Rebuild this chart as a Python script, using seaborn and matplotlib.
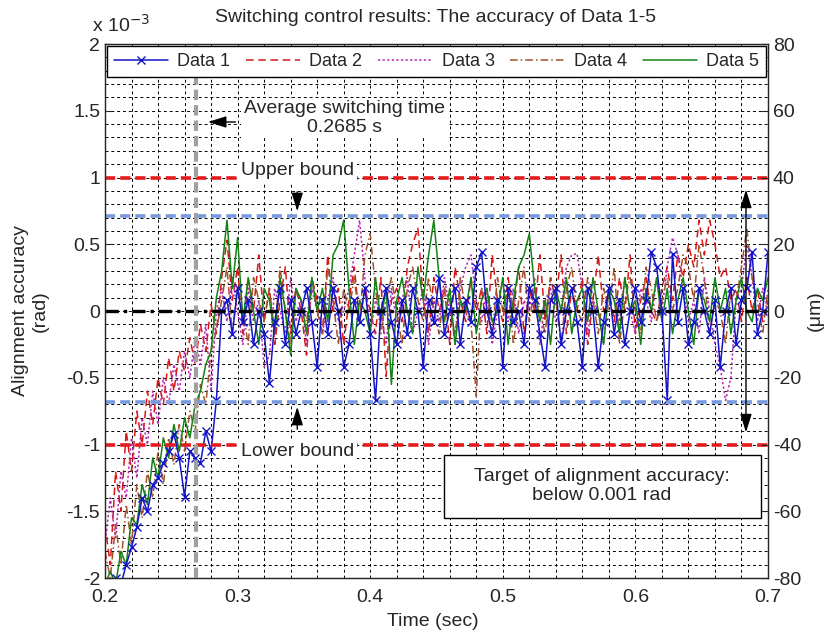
import numpy as np
import matplotlib
matplotlib.use('Agg')
import matplotlib.pyplot as plt
import seaborn as sns
from matplotlib.patches import Rectangle
from matplotlib.ticker import MultipleLocator, FormatStrFormatter

# sampled every 4 ms, values in units of 1e-3 rad
time = np.linspace(0.2, 0.7, 126)

data1 = [-2.05, -2.1, -2.0, -2.05, -1.9, -1.77, -1.62, -1.40, -1.5, -1.3,
         -1.25, -1.14, -1.05, -0.92, -1.1, -1.39, -1.05, -1.1, -1.14, -0.9,
         -1.05, -0.67, 0.0, 0.08, -0.17, 0.17, -0.08, 0.08, -0.25, 0.0,
         -0.17, -0.54, -0.08, 0.17, -0.25, 0.08, -0.17, 0.0, 0.17, -0.08,
         -0.42, 0.08, -0.17, 0.17, 0.0, -0.42, -0.25, 0.08, -0.08, 0.17,
         -0.17, -0.67, 0.0, 0.17, -0.08, -0.25, 0.08, -0.17, 0.17, 0.0,
         -0.42, 0.08, -0.08, 0.25, -0.17, 0.0, 0.17, -0.25, 0.08, -0.08,
         0.33, 0.44, 0.0, -0.17, 0.08, -0.42, 0.17, -0.08, 0.0, -0.25,
         0.17, 0.08, -0.17, -0.42, 0.08, 0.17, -0.25, 0.0, 0.17, -0.08,
         -0.42, 0.17, 0.0, -0.42, -0.08, 0.17, -0.17, 0.08, -0.25, 0.0,
         0.17, -0.08, 0.08, 0.44, 0.33, 0.0, -0.67, 0.43, -0.08, 0.17,
         -0.25, -0.08, 0.17, 0.0, -0.17, 0.08, -0.42, 0.0, 0.17, -0.25,
         0.08, 0.17, 0.44, -0.17, 0.0, 0.44]

data2 = [-1.6, -1.9, -1.2, -1.5, -0.9, -1.2, -0.75, -1.0, -0.6, -0.85,
         -0.5, -0.7, -0.35, -0.6, -0.3, -0.45, -0.2, -0.4, -0.1, -0.3,
         0.05, -0.17, 0.25, 0.53, 0.08, 0.33, -0.17, 0.25, 0.0, 0.42,
         -0.08, 0.17, -0.25, 0.08, 0.33, -0.17, 0.17, 0.0, -0.33, 0.25,
         0.08, -0.17, 0.42, 0.0, 0.17, -0.25, 0.08, 0.33, -0.08, 0.17,
         0.0, -0.17, 0.25, -0.49, 0.08, 0.17, -0.08, 0.33, 0.5, 0.62,
         0.08, -0.17, 0.25, 0.0, 0.17, -0.25, 0.33, 0.08, -0.08, 0.25,
         0.0, 0.17, -0.17, 0.42, 0.08, -0.08, 0.25, 0.0, 0.33, -0.17,
         0.17, 0.0, 0.42, -0.08, 0.25, 0.08, 0.42, -0.17, 0.17, 0.0,
         0.25, -0.25, 0.08, 0.42, 0.0, 0.17, -0.08, 0.25, 0.0, 0.42,
         -0.17, 0.08, 0.25, 0.0, -0.08, 0.17, 0.33, 0.08, 0.42, 0.25,
         0.5, 0.33, 0.68, 0.42, 0.68, 0.5, 0.25, 0.33, 0.08, 0.17,
         -0.08, 0.25, 0.0, 0.17, -0.08, 0.08]

data3 = [-1.75, -1.4, -1.7, -1.2, -1.4, -0.95, -1.25, -0.8, -1.0, -0.6,
         -0.85, -0.5, -0.7, -0.4, -0.6, -0.3, -0.5, -0.2, -0.4, -0.1,
         -0.6, 0.0, 0.17, -0.08, 0.25, 0.0, -0.25, 0.17, -0.08, 0.08,
         -0.42, -0.33, 0.17, 0.0, -0.17, 0.25, -0.08, 0.08, -0.25, 0.17,
         0.0, -0.17, 0.08, 0.25, -0.08, 0.0, 0.17, 0.42, 0.68, 0.25,
         -0.17, 0.08, 0.0, -0.25, 0.17, -0.08, 0.08, 0.25, -0.17, 0.0,
         0.17, -0.25, 0.08, -0.08, 0.25, 0.0, -0.17, 0.17, 0.33, 0.42,
         0.08, -0.08, 0.17, -0.25, 0.0, 0.25, -0.08, 0.17, -0.17, 0.08,
         0.0, 0.25, -0.25, 0.08, 0.17, -0.08, 0.0, 0.33, 0.42, 0.43,
         0.17, -0.17, 0.08, 0.0, -0.25, 0.17, 0.08, -0.08, 0.25, 0.0,
         -0.17, 0.17, 0.08, -0.08, 0.25, 0.0, 0.33, 0.55, 0.42, 0.17,
         -0.08, 0.08, -0.17, 0.25, 0.0, -0.25, -0.42, -0.67, -0.5, 0.08,
         0.17, 0.5, 0.25, -0.08, 0.17, 0.0]

data4 = [-1.8, -2.0, -1.6, -1.9, -1.45, -1.75, -1.3, -1.55, -1.2, -1.4,
         -1.05, -1.3, -0.95, -1.15, -0.85, -1.05, -0.75, -0.9, -0.55, -0.7,
         -0.3, -0.15, 0.08, 0.33, -0.17, 0.17, 0.0, -0.25, 0.25, 0.08,
         -0.08, 0.17, -0.17, 0.33, 0.0, -0.25, 0.17, 0.08, -0.08, 0.25,
         0.0, -0.17, 0.33, 0.08, -0.25, 0.17, 0.0, 0.25, -0.08, 0.42,
         0.58, 0.17, -0.17, 0.08, 0.25, 0.0, -0.25, 0.17, 0.33, 0.08,
         -0.08, 0.25, 0.0, -0.17, 0.17, 0.08, -0.25, 0.25, 0.0, -0.08,
         -0.64, 0.17, 0.08, -0.17, 0.25, 0.0, 0.17, -0.25, 0.08, 0.33,
         -0.08, 0.17, 0.0, -0.17, 0.25, 0.08, -0.25, 0.17, 0.33, 0.0,
         -0.08, 0.25, 0.08, -0.17, 0.17, 0.0, 0.33, -0.25, 0.08, 0.25,
         0.0, -0.17, 0.33, 0.17, -0.08, 0.08, 0.25, 0.0, 0.17, 0.42,
         0.33, 0.08, 0.5, 0.25, -0.17, 0.08, 0.0, -0.25, 0.17, 0.08,
         0.33, 0.62, 0.25, 0.08, -0.17, 0.17]

data5 = [-2.05, -1.95, -2.05, -1.8, -1.9, -1.55, -1.6, -1.3, -1.45, -1.1,
         -1.25, -0.95, -1.1, -0.85, -1.05, -0.8, -0.95, -0.7, -0.6, -0.4,
         -0.3, 0.1, 0.3, 0.68, 0.17, 0.55, -0.08, 0.25, 0.0, -0.25,
         0.17, 0.08, -0.17, 0.25, 0.0, -0.33, 0.17, 0.08, -0.17, 0.25,
         0.0, 0.17, -0.08, 0.42, 0.5, 0.68, 0.17, -0.25, 0.08, 0.0,
         -0.17, 0.25, -0.08, 0.17, -0.55, 0.08, 0.25, 0.0, -0.17, 0.33,
         0.08, 0.42, 0.68, 0.25, -0.08, 0.17, -0.25, 0.08, 0.0, 0.25,
         -0.17, 0.08, 0.17, -0.08, 0.0, 0.25, -0.25, 0.08, 0.33, 0.42,
         0.58, 0.17, -0.08, 0.08, -0.25, 0.17, 0.0, 0.25, -0.17, 0.08,
         0.17, -0.08, 0.25, 0.0, -0.25, 0.17, 0.08, -0.17, 0.25, 0.0,
         0.08, -0.25, 0.17, 0.0, 0.25, -0.08, 0.17, -0.17, 0.08, 0.25,
         0.0, -0.25, 0.17, 0.08, -0.08, 0.25, 0.0, 0.17, -0.17, 0.08,
         0.25, 0.0, -0.08, 0.17, 0.08, 0.25]

labels = ['Data 1', 'Data 2', 'Data 3', 'Data 4', 'Data 5']
series = [data1, data2, data3, data4, data5]

upper_bound = 1.0
lower_bound = -1.0
upper_band = 0.71
lower_band = -0.68
switch_time = 0.2685

colors = ['#1414c8', '#d81818', '#b428b4', '#a0522d', '#148214']
styles = ['-', (0, (5, 3)), (0, (1.5, 1.5)), (0, (5, 2, 1, 2)), '-']

sns.set_style('white')
plt.rcParams['font.family'] = ['Liberation Sans', 'DejaVu Sans']
plt.rcParams['axes.unicode_minus'] = False
plt.rcParams['font.size'] = 14

fig = plt.figure(figsize=(8.3, 6.37), dpi=100)
ax = fig.add_axes([0.1265, 0.0926, 0.7988, 0.8383])

for y, lab, col, ls in zip(series, labels, colors, styles):
    kw = {}
    if lab == 'Data 1':
        kw = dict(marker='x', markersize=6, markeredgecolor=col, markeredgewidth=1)
    sns.lineplot(x=time, y=y, ax=ax, color=col, linestyle=ls, linewidth=1.1,
                 label=lab, zorder=2.2 if lab == 'Data 1' else 2, **kw)

handles, labs = ax.get_legend_handles_labels()

# reference lines
ax.axhline(upper_bound, color='#e41a1c', lw=2.6, ls=(0, (2.8, 1.4)), zorder=2.5)
ax.axhline(lower_bound, color='#e41a1c', lw=2.6, ls=(0, (2.8, 1.4)), zorder=2.5)
ax.axhline(upper_band, color='#7799dd', lw=2.6, ls=(0, (2.8, 1.4)), zorder=2.5)
ax.axhline(lower_band, color='#7799dd', lw=2.6, ls=(0, (2.8, 1.4)), zorder=2.5)
ax.axhline(0, color='black', lw=2.4, ls=(0, (4, 1.5, 1, 1.5)), zorder=2.5)
ax.axvline(switch_time, color='#a0a0a0', lw=3, ls=(0, (2.5, 1.2)), zorder=2.6)

ax.set_xlim(0.2, 0.7)
ax.set_ylim(-2, 2)
ax.xaxis.set_major_locator(MultipleLocator(0.1))
ax.xaxis.set_minor_locator(MultipleLocator(0.02))
ax.yaxis.set_major_locator(MultipleLocator(0.5))
ax.yaxis.set_minor_locator(MultipleLocator(0.1))
ax.xaxis.set_major_formatter(FormatStrFormatter('%g'))
ax.yaxis.set_major_formatter(FormatStrFormatter('%g'))
ax.grid(which='both', color='black', ls=(0, (3, 3)), lw=0.7)
ax.set_axisbelow(True)
ax.tick_params(which='major', direction='in', length=5, top=True, labelsize=14)
ax.tick_params(axis='x', pad=8)
ax.tick_params(which='minor', length=0)
for s in ax.spines.values():
    s.set_color('#404040')
    s.set_linewidth(1)
ax.set_xlabel('')
ax.set_ylabel('')

ax2 = ax.twinx()
ax2.set_ylim(-80, 80)
ax2.yaxis.set_major_locator(MultipleLocator(20))
ax2.tick_params(direction='in', length=5, labelsize=14)
ax2.grid(False)

leg = ax.legend(handles, labs, loc='upper left', bbox_to_anchor=(0.003, 0.997, 0.994, 0),
                mode='expand', ncol=5, fancybox=False, framealpha=1, edgecolor='black',
                borderaxespad=0, handlelength=3.0, columnspacing=0.7, handletextpad=0.5,
                fontsize=13)
leg.get_frame().set_linewidth(1)
leg.set_zorder(5)

box = dict(facecolor='white', edgecolor='none', pad=2)
ax.text(0.3805, 1.446, 'Average switching time\n0.2685 s', ha='center', va='center',
        fontsize=14, bbox=box, zorder=4, linespacing=1.1)
ax.annotate('', xy=(0.2755, 1.416), xytext=(0.3005, 1.416),
            arrowprops=dict(arrowstyle='-|>,head_length=0.8,head_width=0.25', color='black', lw=1))
ax.text(0.345, 1.05, 'Upper bound', ha='center', va='center', fontsize=14, bbox=box, zorder=4)
ax.annotate('', xy=(0.345, 0.727), xytext=(0.345, 0.914),
            arrowprops=dict(arrowstyle='-|>,head_length=0.8,head_width=0.25', color='black', lw=1))
ax.text(0.345, -1.05, 'Lower bound', ha='center', va='center', fontsize=14, bbox=box, zorder=4)
ax.annotate('', xy=(0.345, -0.697), xytext=(0.345, -0.906),
            arrowprops=dict(arrowstyle='-|>,head_length=0.8,head_width=0.25', color='black', lw=1))
ax.annotate('', xy=(0.6834, 0.93), xytext=(0.6834, -0.93),
            arrowprops=dict(arrowstyle='<|-|>,head_length=0.8,head_width=0.25', color='black', lw=1))
ax.add_patch(Rectangle((0.4553, -1.551), 0.2394, 0.472, facecolor='white',
                       edgecolor='black', lw=1, zorder=4))
ax.text(0.5746, -1.31, 'Target of alignment accuracy:\nbelow 0.001 rad', ha='center',
        va='center', fontsize=14, zorder=4.5, linespacing=1.2)

ax.text(-0.02, 1.022, 'x 10$^{-3}$', transform=ax.transAxes, ha='left', va='baseline', fontsize=14)
fig.text(436 / 830, 1 - 17 / 637, 'Switching control results: The accuracy of Data 1-5',
         ha='center', va='center', fontsize=14)
fig.text(30 / 830, 1 - 311 / 637, 'Alignment accuracy\n(rad)', rotation=90, ha='center',
         va='center', fontsize=14, multialignment='center')
fig.text(433 / 830, 1 - 622 / 637, 'Time (sec)', ha='center', va='center', fontsize=14)
fig.text(815 / 830, 1 - 311 / 637, '(μm)', rotation=90, ha='center', va='center', fontsize=14)

fig.savefig('out.png', dpi=100)
